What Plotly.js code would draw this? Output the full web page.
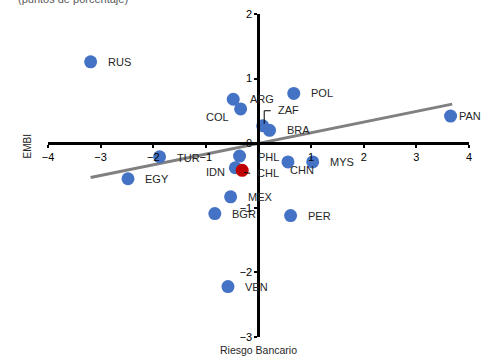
<!DOCTYPE html>
<html>
<head>
<meta charset="utf-8">
<script src="https://cdn.plot.ly/plotly-3.0.1.min.js"></script>
<style>html,body{margin:0;padding:0;background:#fff;}#chart{width:488px;height:356px;}</style>
</head>
<body>
<div id="chart"></div>
<script>
// Data
var countries = ["RUS","ARG","COL","ZAF","BRA","POL","PAN","PHL","IDN","CHN","MYS","TUR","EGY","MEX","BGR","PER","VEN"];
var riesgoBancario = [-3.19,-0.48,-0.34,0.08,0.21,0.67,3.65,-0.36,-0.44,0.56,1.03,-1.88,-2.48,-0.53,-0.83,0.61,-0.58];
var embi = [1.26,0.68,0.53,0.27,0.20,0.77,0.42,-0.20,-0.38,-0.29,-0.29,-0.21,-0.55,-0.83,-1.09,-1.12,-2.22];
var highlightName = ["CHL"];
var highlightX = [-0.31];
var highlightY = [-0.42];
var trendX = [-3.19, 3.68];
var trendY = [-0.53, 0.605];
var xTicks = [-4,-3,-2,-1,1,2,3,4];
var yTicks = [-3,-2,-1,0,1,2];

// Label placement (pixel offsets, styling only)
var labelStyle = {
  RUS:{dx:15,dy:0,anchor:"left"}, ARG:{dx:15,dy:0,anchor:"left"}, COL:{dx:-10,dy:-8,anchor:"right"},
  ZAF:{dx:13,dy:16,anchor:"left"}, BRA:{dx:15,dy:0,anchor:"left"}, POL:{dx:15,dy:0,anchor:"left"},
  PAN:{dx:6,dy:0,anchor:"left"}, PHL:{dx:16,dy:-1,anchor:"left"}, IDN:{dx:-8,dy:-4,anchor:"right"},
  CHN:{dx:0,dy:-8,anchor:"left"}, MYS:{dx:15,dy:0,anchor:"left"}, TUR:{dx:15,dy:-1,anchor:"left"},
  EGY:{dx:15,dy:0,anchor:"left"}, MEX:{dx:15,dy:0,anchor:"left"}, BGR:{dx:15,dy:0,anchor:"left"},
  PER:{dx:15,dy:0,anchor:"left"}, VEN:{dx:15,dy:0,anchor:"left"}, CHL:{dx:13,dy:-3,anchor:"left"}
};

var lblFont = {family:"Liberation Sans, Arial, sans-serif", size:11, color:"#262626"};
var annotations = [];
function addLabel(name, x, y){
  var s = labelStyle[name];
  annotations.push({x:x, y:y, xref:"x", yref:"y", text:name, showarrow:false,
    xanchor:s.anchor, yanchor:"middle", xshift:s.dx, yshift:s.dy, font:lblFont});
}
for (var i=0;i<countries.length;i++) addLabel(countries[i], riesgoBancario[i], embi[i]);
addLabel(highlightName[0], highlightX[0], highlightY[0]);

annotations.push({xref:"paper", yref:"paper", x:-0.076, y:1.023, xanchor:"left", yanchor:"bottom",
  text:"(puntos de porcentaje)", showarrow:false, font:{family:"Liberation Sans, Arial, sans-serif", size:11, color:"#595959"}});
annotations.push({xref:"paper", yref:"paper", x:0.5, y:-0.04, xanchor:"center", yanchor:"middle",
  text:"Riesgo Bancario", showarrow:false, font:{family:"Liberation Sans, Arial, sans-serif", size:10.5, color:"#262626"}});
annotations.push({xref:"paper", yref:"paper", x:-0.05, y:0.59, xanchor:"center", yanchor:"middle", textangle:-90,
  text:"EMBI", showarrow:false, font:{family:"Liberation Sans, Arial, sans-serif", size:10, color:"#262626"}});

var zi = countries.indexOf("ZAF");
var shapes = [
  {type:"path", xref:"x", yref:"y", xsizemode:"pixel", ysizemode:"pixel",
   xanchor:riesgoBancario[zi], yanchor:embi[zi], path:"M 1.5 2 L 1.5 15 L 8 15", line:{color:"#000", width:1}},
  {type:"path", xref:"x", yref:"y", xsizemode:"pixel", ysizemode:"pixel",
   xanchor:highlightX[0], yanchor:highlightY[0], path:"M 2 -2 L 8 -3", line:{color:"#000", width:1}}
];

var traces = [
  {x:trendX, y:trendY, mode:"lines", line:{color:"#808080", width:3}, hoverinfo:"skip"},
  {x:riesgoBancario, y:embi, mode:"markers", marker:{color:"#4472C4", size:13}},
  {x:highlightX, y:highlightY, mode:"markers", marker:{color:"#C00000", size:13}}
];

var axisFont = {family:"Liberation Sans, Arial, sans-serif", size:11, color:"#000"};
var layout = {
  width:488, height:356,
  margin:{l:48, r:19, t:14, b:19, pad:0},
  paper_bgcolor:"#fff", plot_bgcolor:"#fff",
  showlegend:false,
  xaxis:{range:[-4,4], tickvals:xTicks, showgrid:false, zeroline:false, showline:true, linecolor:"#000", linewidth:2.5,
    ticks:"outside", ticklen:3, tickwidth:2, tickcolor:"#000", anchor:"free", position:0.6006, tickfont:axisFont, fixedrange:true},
  yaxis:{range:[-3,2], tickvals:yTicks, showgrid:false, zeroline:false, showline:true, linecolor:"#000", linewidth:2.5,
    ticks:"outside", ticklen:3, tickwidth:2, tickcolor:"#000", anchor:"free", position:0.4998, tickfont:axisFont, fixedrange:true},
  annotations:annotations,
  shapes:shapes
};
Plotly.newPlot("chart", traces, layout, {staticPlot:true});
</script>
</body>
</html>
